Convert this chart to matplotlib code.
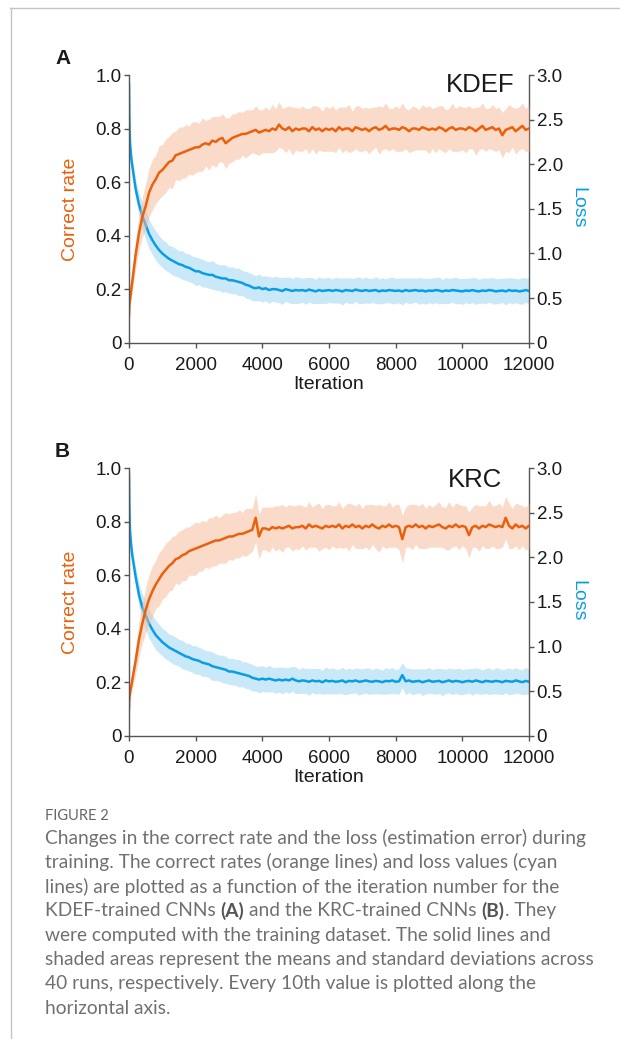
import numpy as np
import matplotlib
matplotlib.use("Agg")
import matplotlib.pyplot as plt
from matplotlib.lines import Line2D

# ---------------- data ----------------
iterations = [0, 10, 20, 30, 50, 75] + list(range(100, 12001, 100))

corr_a = [0.10, 0.14, 0.15, 0.16, 0.18, 0.205,
          0.23, 0.33, 0.41, 0.47, 0.51, 0.56, 0.59, 0.61, 0.635, 0.645,
          0.66, 0.675, 0.68, 0.70, 0.705, 0.71, 0.715, 0.72, 0.725, 0.73,
          0.73, 0.74, 0.745, 0.74, 0.755, 0.75, 0.76, 0.765, 0.745, 0.755,
          0.765, 0.77, 0.775, 0.78, 0.78, 0.785, 0.79, 0.795, 0.785, 0.79,
          0.795, 0.79, 0.80, 0.795, 0.815, 0.80, 0.795, 0.805, 0.79, 0.80,
          0.795, 0.80, 0.80, 0.79, 0.805, 0.795, 0.80, 0.79, 0.80, 0.795,
          0.80, 0.79, 0.805, 0.795, 0.80, 0.80, 0.79, 0.805, 0.80, 0.795,
          0.80, 0.79, 0.80, 0.805, 0.795, 0.80, 0.81, 0.795, 0.80, 0.80,
          0.795, 0.805, 0.80, 0.79, 0.80, 0.80, 0.795, 0.805, 0.80, 0.795,
          0.80, 0.795, 0.805, 0.80, 0.79, 0.80, 0.805, 0.795, 0.80, 0.80,
          0.795, 0.805, 0.80, 0.79, 0.80, 0.81, 0.795, 0.80, 0.805, 0.795,
          0.80, 0.775, 0.795, 0.80, 0.805, 0.79, 0.80, 0.81, 0.795, 0.80]
corr_a_sd = [0.0, 0.01, 0.015, 0.02, 0.025, 0.03,
             0.035, 0.05, 0.065, 0.075, 0.085, 0.09, 0.095, 0.09, 0.10, 0.095,
             0.10, 0.095, 0.105, 0.09, 0.10, 0.095, 0.10, 0.09, 0.10, 0.095,
             0.09, 0.10, 0.085, 0.095, 0.09, 0.095, 0.085, 0.09, 0.095, 0.085,
             0.09, 0.085, 0.09, 0.08, 0.09, 0.085, 0.08, 0.09, 0.085, 0.08,
             0.085, 0.08, 0.09, 0.08, 0.085, 0.075, 0.085, 0.08, 0.09, 0.08,
             0.08, 0.085, 0.075, 0.085, 0.08, 0.09, 0.08, 0.075, 0.085, 0.08,
             0.085, 0.08, 0.075, 0.085, 0.08, 0.09, 0.075, 0.08, 0.085, 0.08,
             0.08, 0.085, 0.08, 0.075, 0.09, 0.08, 0.085, 0.08, 0.075, 0.085,
             0.08, 0.09, 0.075, 0.08, 0.085, 0.08, 0.075, 0.085, 0.08, 0.09,
             0.075, 0.085, 0.08, 0.085, 0.08, 0.075, 0.09, 0.08, 0.085, 0.08,
             0.085, 0.08, 0.075, 0.09, 0.08, 0.085, 0.08, 0.075, 0.085, 0.08,
             0.08, 0.085, 0.08, 0.09, 0.075, 0.085, 0.08, 0.085, 0.08, 0.085]
loss_a = [2.90, 2.55, 2.35, 2.25, 2.15, 2.05,
          1.98, 1.72, 1.55, 1.42, 1.32, 1.22, 1.15, 1.09, 1.04, 1.00,
          0.97, 0.94, 0.92, 0.90, 0.88, 0.87, 0.85, 0.84, 0.82, 0.80,
          0.80, 0.78, 0.77, 0.76, 0.76, 0.74, 0.73, 0.72, 0.72, 0.70,
          0.70, 0.69, 0.68, 0.67, 0.65, 0.64, 0.62, 0.61, 0.62, 0.60,
          0.61, 0.59, 0.60, 0.60, 0.59, 0.58, 0.60, 0.59, 0.58, 0.59,
          0.585, 0.59, 0.58, 0.595, 0.585, 0.575, 0.59, 0.58, 0.585, 0.59,
          0.58, 0.59, 0.585, 0.575, 0.59, 0.585, 0.58, 0.595, 0.585, 0.58,
          0.59, 0.58, 0.585, 0.59, 0.575, 0.585, 0.58, 0.59, 0.585, 0.58,
          0.585, 0.575, 0.59, 0.58, 0.585, 0.59, 0.58, 0.585, 0.575, 0.585,
          0.58, 0.59, 0.585, 0.575, 0.585, 0.58, 0.59, 0.585, 0.58, 0.575,
          0.585, 0.58, 0.59, 0.58, 0.575, 0.585, 0.58, 0.59, 0.585, 0.575,
          0.58, 0.585, 0.575, 0.59, 0.58, 0.585, 0.575, 0.58, 0.59, 0.58]
loss_a_sd = [0.0, 0.02, 0.03, 0.04, 0.05, 0.06,
             0.07, 0.10, 0.13, 0.15, 0.16, 0.165, 0.16, 0.165, 0.16, 0.155,
             0.16, 0.15, 0.16, 0.155, 0.15, 0.16, 0.15, 0.155, 0.15, 0.16,
             0.15, 0.155, 0.145, 0.15, 0.16, 0.15, 0.145, 0.155, 0.15, 0.145,
             0.15, 0.145, 0.155, 0.14, 0.15, 0.145, 0.15, 0.14, 0.15, 0.145,
             0.14, 0.15, 0.135, 0.145, 0.14, 0.15, 0.135, 0.145, 0.14, 0.15,
             0.145, 0.135, 0.15, 0.14, 0.145, 0.135, 0.15, 0.14, 0.145, 0.14,
             0.135, 0.145, 0.14, 0.15, 0.135, 0.145, 0.14, 0.135, 0.15, 0.14,
             0.145, 0.14, 0.135, 0.15, 0.14, 0.145, 0.135, 0.14, 0.15, 0.14,
             0.14, 0.15, 0.135, 0.145, 0.14, 0.135, 0.15, 0.14, 0.145, 0.135,
             0.145, 0.14, 0.15, 0.135, 0.145, 0.14, 0.135, 0.15, 0.14, 0.145,
             0.135, 0.145, 0.14, 0.15, 0.135, 0.14, 0.145, 0.135, 0.15, 0.14,
             0.14, 0.135, 0.15, 0.14, 0.145, 0.135, 0.14, 0.15, 0.135, 0.145]

corr_b = [0.10, 0.14, 0.15, 0.16, 0.175, 0.19,
          0.21, 0.28, 0.36, 0.42, 0.47, 0.51, 0.54, 0.565, 0.585, 0.605,
          0.62, 0.635, 0.645, 0.66, 0.665, 0.675, 0.68, 0.69, 0.695, 0.70,
          0.705, 0.71, 0.715, 0.72, 0.725, 0.73, 0.73, 0.735, 0.74, 0.745,
          0.745, 0.75, 0.755, 0.755, 0.76, 0.765, 0.77, 0.815, 0.745, 0.775,
          0.775, 0.77, 0.78, 0.775, 0.78, 0.775, 0.78, 0.785, 0.775, 0.78,
          0.78, 0.785, 0.775, 0.79, 0.78, 0.785, 0.78, 0.775, 0.785, 0.78,
          0.785, 0.78, 0.79, 0.775, 0.785, 0.78, 0.79, 0.78, 0.785, 0.775,
          0.785, 0.78, 0.79, 0.78, 0.775, 0.785, 0.78, 0.79, 0.78, 0.785,
          0.78, 0.735, 0.78, 0.785, 0.78, 0.79, 0.78, 0.785, 0.775, 0.785,
          0.78, 0.785, 0.79, 0.78, 0.775, 0.785, 0.78, 0.79, 0.78, 0.785,
          0.78, 0.75, 0.78, 0.785, 0.775, 0.785, 0.78, 0.79, 0.785, 0.78,
          0.785, 0.78, 0.815, 0.785, 0.775, 0.79, 0.78, 0.785, 0.775, 0.785]
corr_b_sd = [0.0, 0.01, 0.015, 0.02, 0.025, 0.03,
             0.035, 0.05, 0.065, 0.075, 0.085, 0.09, 0.095, 0.09, 0.10, 0.095,
             0.10, 0.095, 0.10, 0.09, 0.10, 0.095, 0.10, 0.09, 0.095, 0.10,
             0.09, 0.095, 0.085, 0.095, 0.09, 0.095, 0.085, 0.09, 0.095, 0.085,
             0.09, 0.085, 0.09, 0.08, 0.09, 0.085, 0.08, 0.09, 0.085, 0.08,
             0.08, 0.085, 0.075, 0.085, 0.08, 0.09, 0.075, 0.08, 0.085, 0.08,
             0.085, 0.075, 0.08, 0.085, 0.075, 0.08, 0.09, 0.075, 0.08, 0.085,
             0.075, 0.08, 0.085, 0.075, 0.08, 0.09, 0.075, 0.08, 0.085, 0.075,
             0.08, 0.085, 0.075, 0.08, 0.09, 0.075, 0.08, 0.085, 0.075, 0.08,
             0.085, 0.09, 0.075, 0.08, 0.085, 0.075, 0.08, 0.085, 0.075, 0.08,
             0.075, 0.08, 0.085, 0.075, 0.08, 0.09, 0.075, 0.08, 0.085, 0.075,
             0.08, 0.085, 0.075, 0.08, 0.085, 0.075, 0.08, 0.09, 0.075, 0.08,
             0.085, 0.075, 0.08, 0.085, 0.075, 0.08, 0.085, 0.075, 0.08, 0.085]
loss_b = [2.94, 2.60, 2.40, 2.30, 2.20, 2.10,
          2.02, 1.78, 1.58, 1.44, 1.35, 1.26, 1.19, 1.13, 1.09, 1.05,
          1.02, 0.99, 0.97, 0.95, 0.93, 0.91, 0.89, 0.88, 0.86, 0.85,
          0.84, 0.82, 0.81, 0.80, 0.78, 0.77, 0.76, 0.75, 0.74, 0.72,
          0.72, 0.71, 0.70, 0.69, 0.68, 0.67, 0.65, 0.64, 0.63, 0.64,
          0.63, 0.64, 0.63, 0.62, 0.63, 0.62, 0.63, 0.62, 0.64, 0.62,
          0.61, 0.62, 0.615, 0.605, 0.62, 0.61, 0.615, 0.60, 0.62, 0.61,
          0.615, 0.605, 0.61, 0.62, 0.60, 0.615, 0.61, 0.62, 0.605, 0.61,
          0.62, 0.61, 0.605, 0.615, 0.61, 0.60, 0.615, 0.61, 0.62, 0.605,
          0.61, 0.68, 0.61, 0.62, 0.605, 0.61, 0.615, 0.60, 0.61, 0.62,
          0.605, 0.61, 0.615, 0.60, 0.61, 0.62, 0.605, 0.615, 0.61, 0.60,
          0.61, 0.615, 0.605, 0.62, 0.61, 0.60, 0.615, 0.61, 0.605, 0.615,
          0.61, 0.60, 0.615, 0.61, 0.605, 0.62, 0.61, 0.60, 0.615, 0.605]
loss_b_sd = [0.0, 0.02, 0.03, 0.04, 0.05, 0.06,
             0.07, 0.10, 0.13, 0.15, 0.16, 0.165, 0.16, 0.165, 0.16, 0.155,
             0.16, 0.15, 0.16, 0.155, 0.15, 0.16, 0.15, 0.155, 0.15, 0.16,
             0.15, 0.155, 0.145, 0.15, 0.16, 0.15, 0.145, 0.155, 0.15, 0.145,
             0.15, 0.145, 0.155, 0.14, 0.15, 0.145, 0.15, 0.14, 0.15, 0.145,
             0.14, 0.15, 0.135, 0.145, 0.14, 0.15, 0.135, 0.145, 0.14, 0.15,
             0.135, 0.145, 0.14, 0.15, 0.135, 0.145, 0.14, 0.135, 0.15, 0.14,
             0.145, 0.14, 0.135, 0.15, 0.14, 0.145, 0.135, 0.14, 0.15, 0.14,
             0.14, 0.15, 0.135, 0.145, 0.14, 0.135, 0.15, 0.14, 0.145, 0.135,
             0.145, 0.14, 0.15, 0.135, 0.145, 0.14, 0.135, 0.15, 0.14, 0.145,
             0.135, 0.145, 0.14, 0.15, 0.135, 0.14, 0.145, 0.135, 0.15, 0.14,
             0.14, 0.135, 0.15, 0.14, 0.145, 0.135, 0.14, 0.15, 0.135, 0.145,
             0.145, 0.14, 0.135, 0.15, 0.14, 0.145, 0.135, 0.14, 0.15, 0.14]

panel_letters = ["A", "B"]
dataset_names = ["KDEF", "KRC"]
x_ticks = [0, 2000, 4000, 6000, 8000, 10000, 12000]
left_ticks = [0, 0.2, 0.4, 0.6, 0.8, 1.0]
left_ticklabels = ["0", "0.2", "0.4", "0.6", "0.8", "1.0"]
right_ticks = [0, 0.5, 1.0, 1.5, 2.0, 2.5, 3.0]
right_ticklabels = ["0", "0.5", "1.0", "1.5", "2.0", "2.5", "3.0"]

caption_title = "FIGURE 2"
caption_lines = [
    [("Changes in the correct rate and the loss (estimation error) during", "normal")],
    [("training. The correct rates (orange lines) and loss values (cyan", "normal")],
    [("lines) are plotted as a function of the iteration number for the", "normal")],
    [("KDEF-trained CNNs", "normal"), ("(A)", "bold"), ("and the KRC-trained CNNs", "normal"),
     ("(B)", "bold"), (". They", "normal")],
    [("were computed with the training dataset. The solid lines and", "normal")],
    [("shaded areas represent the means and standard deviations across", "normal")],
    [("40 runs, respectively. Every 10th value is plotted along the", "normal")],
    [("horizontal axis.", "normal")],
]

# ---------------- styling ----------------
W, H = 620, 1039
ORANGE = "#EA600C"
ORANGE_BAND = "#F7B995"
BLUE = "#0A9DE3"
BLUE_BAND = "#9ED6F3"
AXCOL = "#555555"
TXT = "#1a1a1a"
AX_FONT = ["Liberation Sans", "DejaVu Sans"]
plt.rcParams["font.family"] = AX_FONT

fig = plt.figure(figsize=(W / 100, H / 100), dpi=100)


def fx(px):
    return px / W


def fy(py):
    return 1 - py / H


panels = [
    dict(top=75.0, bottom=342.7, corr=corr_a, corr_sd=corr_a_sd, loss=loss_a, loss_sd=loss_a_sd,
         letter_y=59, name_pos=(0.965, 0.936)),
    dict(top=468.3, bottom=735.7, corr=corr_b, corr_sd=corr_b_sd, loss=loss_b, loss_sd=loss_b_sd,
         letter_y=451, name_pos=(0.9325, 0.931)),
]

x = np.array(iterations, dtype=float)
for i, p in enumerate(panels):
    left, right = 129.0, 529.0
    ax = fig.add_axes([fx(left), fy(p["bottom"]), (right - left) / W, (p["bottom"] - p["top"]) / H])
    ax2 = ax.twinx()
    ax.set_zorder(ax2.get_zorder() + 1)
    ax.patch.set_visible(False)

    c = np.array(p["corr"]); cs = np.array(p["corr_sd"])
    l = np.array(p["loss"]); ls = np.array(p["loss_sd"])

    ax2.fill_between(x, l - ls, l + ls, color=BLUE_BAND, alpha=0.55, lw=0)
    ax2.plot(x, l, color=BLUE, lw=1.8)
    ax.fill_between(x, c - cs, c + cs, color=ORANGE_BAND, alpha=0.5, lw=0)
    ax.plot(x, c, color=ORANGE, lw=1.8)

    ax.set_xlim(0, 12000)
    ax.set_ylim(0, 1.0)
    ax2.set_ylim(0, 3.0)
    ax.set_xticks(x_ticks)
    ax.set_xticklabels([str(t) for t in x_ticks])
    ax.set_yticks(left_ticks)
    ax.set_yticklabels(left_ticklabels)
    ax2.set_yticks(right_ticks)
    ax2.set_yticklabels(right_ticklabels)

    for a in (ax, ax2):
        a.spines["top"].set_visible(False)
        for s in a.spines.values():
            s.set_color(AXCOL)
            s.set_linewidth(1.0)
        a.tick_params(direction="out", length=3.5, width=1.0, color=AXCOL,
                      labelsize=13.5, labelcolor=TXT, pad=2)
    ax.tick_params(axis="x", pad=6.5)
    ax.spines["right"].set_visible(False)
    ax2.spines["left"].set_visible(False)
    ax2.spines["bottom"].set_visible(False)

    ax.set_ylabel("Correct rate", color=ORANGE, fontsize=14)
    ax.yaxis.set_label_coords(-0.124, 0.5)
    ax2.set_ylabel("Loss", color=BLUE, fontsize=14, rotation=270, va="center")
    ax2.yaxis.set_label_coords(1.121, 0.505)
    ax.set_xlabel("Iteration", fontsize=14, color=TXT)
    ax.xaxis.set_label_coords(0.5, -0.124)

    ax.text(p["name_pos"][0], p["name_pos"][1], dataset_names[i], transform=ax.transAxes,
            ha="right", va="baseline", fontsize=18.5, color=TXT)
    fig.text(fx(55), fy(p["letter_y"]), panel_letters[i], fontsize=15, fontweight="bold",
             ha="left", va="center", color=TXT, family=AX_FONT)

# ---------------- frame lines ----------------
fig.add_artist(Line2D([fx(10), 1.0], [fy(7.5), fy(7.5)], color="#c4c4c4", lw=1.0,
                      transform=fig.transFigure))
fig.add_artist(Line2D([fx(10.5), fx(10.5)], [fy(7.5), 0.0], color="#c4c4c4", lw=1.0,
                      transform=fig.transFigure))

# ---------------- caption ----------------
CAP = "#707070"
cap_family = ["Lato", "DejaVu Sans"]
CAP_SIZE = 13.8
fig.text(fx(45), fy(816), caption_title, fontsize=10.5, color="#666666", family=cap_family,
         ha="left", va="center")
renderer = fig.canvas.get_renderer()
t1 = fig.text(0, 0, "a a", fontsize=CAP_SIZE, family=cap_family)
t2 = fig.text(0, 0, "aa", fontsize=CAP_SIZE, family=cap_family)
space_w = t1.get_window_extent(renderer).width - t2.get_window_extent(renderer).width
t1.remove(); t2.remove()

y0, dy = 838.0, 24.3
for k, segs in enumerate(caption_lines):
    xp = 45.0
    for j, (txt, wt) in enumerate(segs):
        if j > 0 and not txt.startswith("."):
            xp += space_w
        t = fig.text(fx(xp), fy(y0 + k * dy), txt, fontsize=CAP_SIZE,
                     color=CAP if wt == "normal" else "#555555",
                     family=cap_family, fontweight=wt, ha="left", va="center")
        xp += t.get_window_extent(renderer).width

fig.savefig("out.png", dpi=100)
